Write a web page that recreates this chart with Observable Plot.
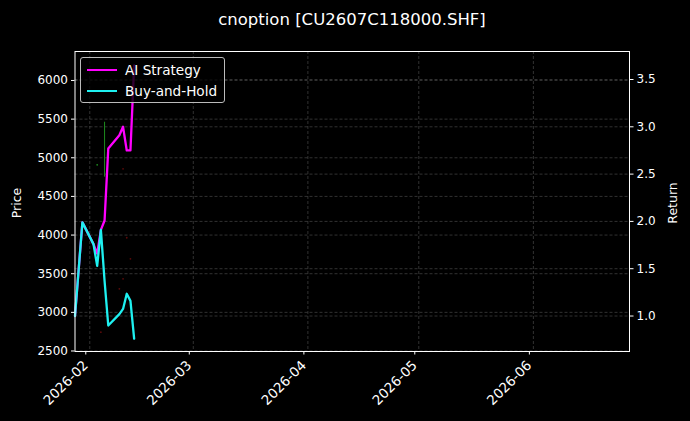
<!DOCTYPE html>
<html>
<head>
<meta charset="utf-8">
<script src="https://cdn.jsdelivr.net/npm/d3@7"></script>
<script src="https://cdn.jsdelivr.net/npm/@observablehq/plot@0.6"></script>
<style>
  html, body { margin: 0; padding: 0; background: #000; }
  #wrap { position: relative; width: 690px; height: 421px; background: #000; font-family: "DejaVu Sans", sans-serif; color: #fff; overflow: hidden; }
  #chart { position: absolute; left: 0; top: 0; }
  #title { position: absolute; left: 0; top: 12px; width: 704px; text-align: center; font-size: 16.5px; line-height: 16px; white-space: nowrap; }
  .ylab { position: absolute; font-size: 12.5px; line-height: 14px; white-space: nowrap; transform: translate(-50%, -50%) rotate(-90deg); }
  #legend { position: absolute; left: 80px; top: 57px; width: 145px; height: 46px; border: 1px solid #bbb; border-radius: 3px; background: rgba(0,0,0,0.8); box-sizing: border-box; }
  .item { position: absolute; left: 0; height: 16px; font-size: 13.6px; line-height: 16px; white-space: nowrap; }
  .sw { position: absolute; left: 6px; top: 7px; width: 30px; height: 2.3px; }
  .lt { position: absolute; left: 44px; top: 0; }
</style>
</head>
<body>
<div id="wrap">
  <div id="chart"></div>
  <div id="title"></div>
  <div class="ylab" id="ylabL" style="left:17px; top:203px;"></div>
  <div class="ylab" id="ylabR" style="left:673px; top:203px;"></div>
  <div id="legend"></div>
</div>
<script>
// ---- data ----
const titleText = "cnoption [CU2607C118000.SHF]";
const leftLabel = "Price";
const rightLabel = "Return";
const seriesNames = ["AI Strategy", "Buy-and-Hold"];

const dates = ["2026-01-28","2026-01-30","2026-02-02","2026-02-03","2026-02-04","2026-02-05",
               "2026-02-06","2026-02-09","2026-02-10","2026-02-11","2026-02-12","2026-02-13"];
const aiReturn = [1.00, 1.99, 1.76, 1.66, 1.91, 2.01, 2.77, 2.91, 3.00, 2.75, 2.75, 3.65];
const bhReturn = [1.00, 1.99, 1.76, 1.53, 1.91, 1.37, 0.90, 1.02, 1.075, 1.235, 1.16, 0.76];

// faint candlestick remnants (price axis)
const wickDates = ["2026-02-05"];
const wickLow = [4749];
const wickHigh = [5460];
const upDotDates = ["2026-02-03"];
const upDotPrice = [4909];
const downDotDates = ["2026-02-04","2026-02-09","2026-02-10","2026-02-10","2026-02-11","2026-02-12"];
const downDotPrice = [2743, 3305, 3434, 4857, 3965, 3693];

const priceTicks = [2500, 3000, 3500, 4000, 4500, 5000, 5500, 6000];
const returnTicks = [1.0, 1.5, 2.0, 2.5, 3.0, 3.5];
const xTickDates = ["2026-02-01","2026-03-01","2026-04-01","2026-05-01","2026-06-01"];

const xDomain = ["2026-01-28","2026-06-27"];
const priceDomain = [2493.5, 6375];
const returnDomain = [0.625, 3.796];

// ---- build ----
const parse = d3.utcParse("%Y-%m-%d");
const r2p = d3.scaleLinear().domain(returnDomain).range(priceDomain);

const aiRows = dates.map((d, i) => ({date: parse(d), v: r2p(aiReturn[i])}));
const bhRows = dates.map((d, i) => ({date: parse(d), v: r2p(bhReturn[i])}));
const wickRows = wickDates.map((d, i) => ({date: parse(d), lo: wickLow[i], hi: wickHigh[i]}));
const upRows = upDotDates.map((d, i) => ({date: parse(d), p: upDotPrice[i]}));
const downRows = downDotDates.map((d, i) => ({date: parse(d), p: downDotPrice[i]}));
const xTicks = xTickDates.map(parse);
const returnTickPos = returnTicks.map(r => r2p(r));

const gridStyle = {stroke: "#ffffff", strokeOpacity: 0.28, strokeWidth: 0.7, strokeDasharray: "3,2"};

const chart = Plot.plot({
  width: 690,
  height: 421,
  marginLeft: 74.5,
  marginRight: 61,
  marginTop: 51,
  marginBottom: 70,
  style: {background: "#000", color: "#fff", fontFamily: "DejaVu Sans, sans-serif", fontSize: "12px"},
  x: {type: "utc", domain: xDomain.map(parse)},
  y: {domain: priceDomain},
  marks: [
    Plot.gridX(xTicks, gridStyle),
    Plot.gridY(priceTicks, gridStyle),
    Plot.gridY(returnTickPos, gridStyle),
    Plot.ruleX(wickRows, {x: "date", y1: "lo", y2: "hi", stroke: "#1e8c1e", strokeWidth: 1}),
    Plot.dot(upRows, {x: "date", y: "p", r: 0.9, fill: "#1e8c1e", stroke: null}),
    Plot.dot(downRows, {x: "date", y: "p", r: 0.9, fill: "#5a0a0a", stroke: null}),
    Plot.line(aiRows, {x: "date", y: "v", stroke: "#ff00ff", strokeWidth: 2.3}),
    Plot.line(bhRows, {x: "date", y: "v", stroke: "#1ef0f0", strokeWidth: 2.3}),
    Plot.frame({stroke: "#fff", strokeWidth: 1}),
    Plot.axisY(priceTicks, {anchor: "left", label: null, tickSize: 3.5, tickPadding: 3.5, tickFormat: d => String(d), fontSize: 12}),
    Plot.axisY(returnTickPos, {anchor: "right", label: null, tickSize: 3.5, tickPadding: 3.5, tickFormat: p => r2p.invert(p).toFixed(1), fontSize: 12}),
    Plot.axisX(xTicks, {anchor: "bottom", label: null, tickSize: 3.5, tickPadding: 8, tickRotate: -45, textAnchor: "end", lineAnchor: "middle", dx: -4, tickFormat: d3.utcFormat("%Y-%m"), fontSize: 13.5})
  ]
});
document.getElementById("chart").appendChild(chart);

document.getElementById("title").textContent = titleText;
document.getElementById("ylabL").textContent = leftLabel;
document.getElementById("ylabR").textContent = rightLabel;

const colors = ["#ff00ff", "#1ef0f0"];
const legend = document.getElementById("legend");
seriesNames.forEach((name, i) => {
  const item = document.createElement("div");
  item.className = "item";
  item.style.top = (4 + i * 21) + "px";
  const sw = document.createElement("div");
  sw.className = "sw";
  sw.style.background = colors[i];
  const lt = document.createElement("div");
  lt.className = "lt";
  lt.textContent = name;
  item.appendChild(sw);
  item.appendChild(lt);
  legend.appendChild(item);
});
</script>
</body>
</html>
